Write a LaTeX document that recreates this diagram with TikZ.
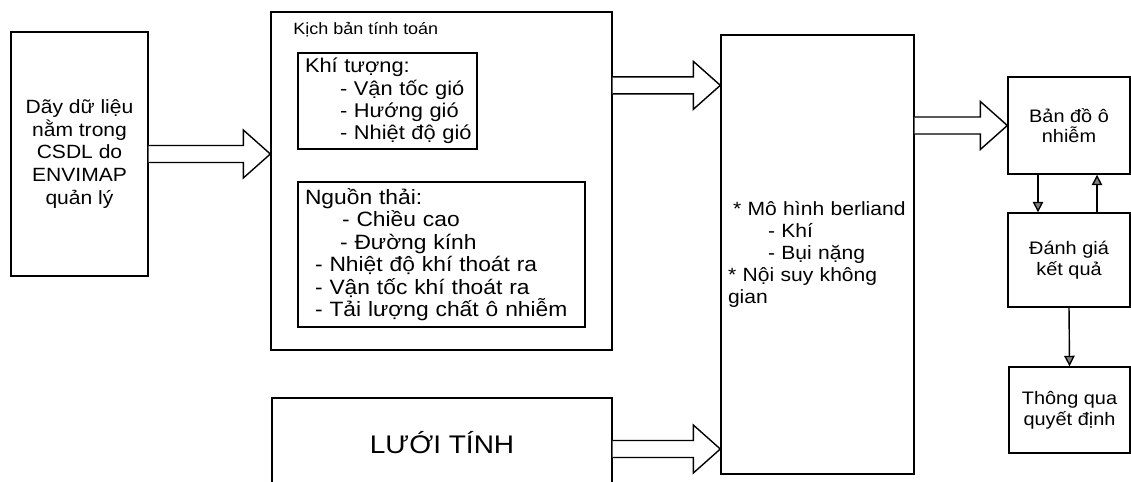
\documentclass[tikz,border=0pt]{standalone}
\usepackage{fontspec}
\setmainfont{Liberation Sans}[FakeStretch=1.1]
\usetikzlibrary{arrows.meta,calc}

\begin{document}
\begin{tikzpicture}[x=0.02cm, y=0.02cm]
                        \tikzstyle{every node}+=[inner sep=0pt]
                        \tikzstyle{box}=[draw=black, line width=0.8pt, rectangle]
                        \tikzstyle{listbox}=[box, align=left, inner xsep=0.04cm]
                        \tikzstyle{hollow}=[draw=black, line width=0.8pt, fill=white, line join=miter]
                        \tikzstyle{smallarrow}=[draw=black, line width=0.8pt, -{Triangle[length=6pt,width=6pt,fill=gray]}]
                        \useasboundingbox (0,0) rectangle (1131,-481);
                        % input data
                        \node [box, minimum width=2.74cm, minimum height=4.88cm, align=center, font=\fontsize{10.9}{13}\selectfont] (data) at (79.5,-154) {Dãy dữ liệu\\nằm trong\\CSDL do\\ENVIMAP\\quản lý};
                        % scenario
                        \node [box, minimum width=6.82cm, minimum height=6.76cm] (kb) at (441.5,-181) {};
                        \node [anchor=base west, font=\fontsize{9.3}{11}\selectfont] (kbtitle) at (293,-34) {Kịch bản tính toán};
                        \node [listbox, text width=3.5cm, minimum height=1.92cm, font=\fontsize{11.3}{12.8}\selectfont] (kt) at (387.5,-101) {\hspace*{0.1cm}Khí tượng:\\\hspace*{0.8cm}- Vận tốc gió\\\hspace*{0.8cm}- Hướng gió\\\hspace*{0.8cm}- Nhiệt độ gió};
                        \node [listbox, text width=5.66cm, minimum height=2.9cm, font=\fontsize{11.8}{12.8}\selectfont] (nt) at (441.5,-254.5) {\hspace*{0.1cm}Nguồn thải:\\\hspace*{0.84cm}- Chiều cao\\\hspace*{0.8cm}- Đường kính\\\hspace*{0.3cm}- Nhiệt độ khí thoát ra\\\hspace*{0.3cm}- Vận tốc khí thoát ra\\\hspace*{0.3cm}- Tải lượng chất ô nhiễm};
                        % grid
                        \node [box, minimum width=6.8cm, minimum height=1.8cm, font=\fontsize{14.5}{16}\selectfont] (luoi) at (442,-443) {LƯỚI TÍNH};
                        % model
                        \node [listbox, text width=3.78cm, minimum height=8.78cm, font=\fontsize{10.9}{12.5}\selectfont] (mh) at (817.5,-254.5) {\hspace*{0.2cm}* Mô hình berliand\\\hspace*{0.9cm}- Khí\\\hspace*{0.9cm}- Bụi nặng\\\hspace*{0.1cm}* Nội suy không\\\hspace*{0.1cm}gian};
                        % results
                        \node [box, minimum width=2.44cm, minimum height=1.94cm, align=center, font=\fontsize{10.3}{11.4}\selectfont] (bd) at (1069,-125.5) {Bản đồ ô\\nhiễm};
                        \node [box, minimum width=2.44cm, minimum height=1.88cm, align=center, font=\fontsize{10.3}{12}\selectfont] (dg) at (1069,-260) {Đánh giá\\kết quả};
                        \node [box, minimum width=2.42cm, minimum height=1.72cm, align=center, font=\fontsize{10.3}{12}\selectfont] (tq) at (1069.5,-410) {Thông qua\\quyết định};
                        \coordinate (kbout) at ($(kb.north east)+(0,-74)$);
                        \coordinate (luoiout) at ($(luoi.east)+(0,-6)$);
                        % block arrows
                        \draw [hollow] ($(data.east)+(0,8.5)$) -- ($(kb.west |- data.east)+(-27,8.5)$) -- ++(0,15.5) -- (kb.west |- data.east) -- ++(-27,-24) -- ++(0,15.5) -- ($(data.east)+(0,-8.5)$);
                        \draw [hollow] ($(kbout)+(0,8.5)$) -- ($(mh.west |- kbout)+(-27,8.5)$) -- ++(0,15.5) -- (mh.west |- kbout) -- ++(-27,-24) -- ++(0,15.5) -- ($(kbout)+(0,-8.5)$);
                        \draw [hollow] ($(luoiout)+(0,8.5)$) -- ($(mh.west |- luoiout)+(-27,8.5)$) -- ++(0,15.5) -- (mh.west |- luoiout) -- ++(-27,-24) -- ++(0,15.5) -- ($(luoiout)+(0,-8.5)$);
                        \draw [hollow] ($(mh.east |- bd.west)+(0,8.5)$) -- ($(bd.west)+(-27,8.5)$) -- ++(0,15.5) -- (bd.west) -- ++(-27,-24) -- ++(0,15.5) -- ($(mh.east |- bd.west)+(0,-8.5)$);
                        % small arrows
                        \draw [smallarrow] ($(bd.south)+(-31,0)$) -- ($(dg.north)+(-31,0)$);
                        \draw [smallarrow] ($(dg.north)+(28,0)$) -- ($(bd.south)+(28,0)$);
                        \draw [smallarrow] (dg.south) -- (tq.north);
                    \end{tikzpicture}
\end{document}
